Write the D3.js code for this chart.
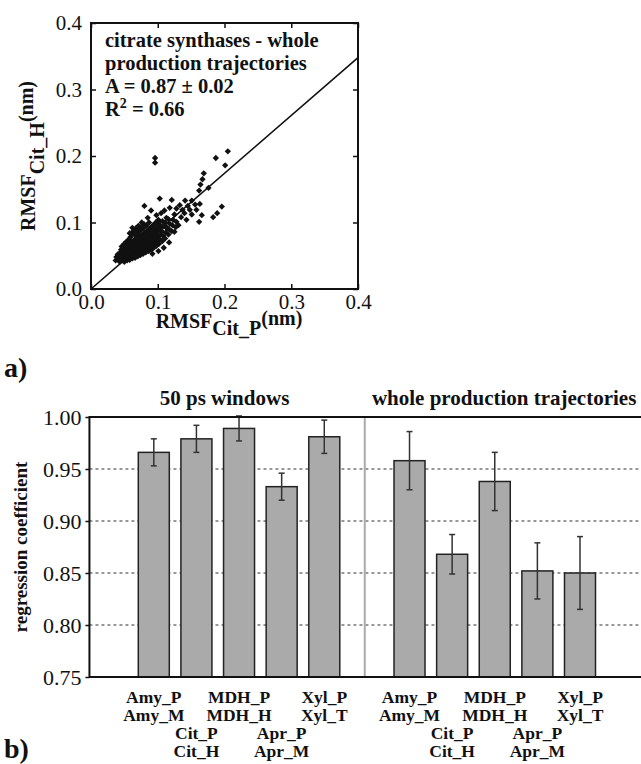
<!DOCTYPE html>
<html lang="en">
<head>
<meta charset="utf-8">
<style>
  body { margin: 0; background: #fff; }
  text { font-family: "Liberation Serif", "Times New Roman", serif; fill: #111; }
  .bold { font-weight: bold; }
</style>
<script src="https://cdnjs.cloudflare.com/ajax/libs/d3/7.8.5/d3.min.js"></script>
</head>
<body>
<script>
var width = 641, height = 764;

// a) RMSF of Cit_P (x) against Cit_H (y), nm
var citCluster = [
  [0.037,0.043],[0.038,0.048],[0.040,0.052],[0.041,0.045],
  [0.043,0.041],[0.043,0.050],[0.044,0.055],[0.045,0.059],[0.045,0.046],
  [0.047,0.043],[0.048,0.049],[0.047,0.053],[0.048,0.057],[0.049,0.062],[0.046,0.064],
  [0.050,0.041],[0.051,0.046],[0.052,0.050],[0.050,0.055],[0.051,0.059],[0.052,0.064],[0.050,0.068],[0.053,0.071],
  [0.054,0.043],[0.055,0.047],[0.056,0.052],[0.054,0.056],[0.055,0.061],[0.056,0.066],[0.055,0.070],[0.057,0.075],
  [0.058,0.044],[0.059,0.049],[0.060,0.053],[0.058,0.058],[0.060,0.062],[0.059,0.067],[0.061,0.071],[0.059,0.078],[0.061,0.082],
  [0.062,0.046],[0.063,0.050],[0.064,0.055],[0.062,0.060],[0.064,0.064],[0.063,0.069],[0.065,0.074],[0.063,0.085],[0.064,0.088],
  [0.066,0.047],[0.067,0.052],[0.068,0.057],[0.066,0.062],[0.068,0.067],[0.067,0.072],[0.069,0.077],[0.066,0.081],[0.068,0.086],[0.067,0.091],
  [0.070,0.049],[0.071,0.054],[0.072,0.059],[0.070,0.064],[0.072,0.069],[0.071,0.074],[0.073,0.080],[0.070,0.085],[0.072,0.090],
  [0.074,0.051],[0.075,0.056],[0.076,0.061],[0.074,0.066],[0.076,0.071],[0.075,0.076],[0.077,0.082],[0.074,0.088],[0.076,0.094],
  [0.078,0.053],[0.079,0.058],[0.080,0.063],[0.078,0.068],[0.080,0.073],[0.079,0.079],[0.081,0.085],[0.078,0.091],[0.080,0.097],
  [0.082,0.055],[0.083,0.060],[0.084,0.066],[0.082,0.071],[0.084,0.076],[0.083,0.082],[0.085,0.088],[0.083,0.095],
  [0.086,0.057],[0.087,0.063],[0.088,0.069],[0.086,0.074],[0.088,0.079],[0.087,0.085],[0.089,0.092],[0.087,0.100],
  [0.090,0.059],[0.091,0.066],[0.092,0.072],[0.090,0.077],[0.092,0.083],[0.091,0.089],[0.093,0.096],
  [0.094,0.062],[0.095,0.069],[0.096,0.075],[0.094,0.081],[0.096,0.087],[0.095,0.093],[0.097,0.100],
  [0.098,0.065],[0.099,0.072],[0.100,0.079],[0.098,0.085],[0.100,0.091],[0.099,0.098],[0.101,0.104],
  [0.102,0.068],[0.103,0.075],[0.104,0.082],[0.102,0.089],[0.104,0.095],[0.103,0.101],
  [0.107,0.072],[0.108,0.080],[0.106,0.087],[0.108,0.094],[0.107,0.102],
  [0.111,0.076],[0.112,0.085],[0.113,0.093],[0.111,0.100],[0.113,0.107],
  [0.116,0.082],[0.117,0.090],[0.118,0.098],[0.116,0.105],
  [0.121,0.087],[0.122,0.096],[0.123,0.104],
  [0.127,0.093],[0.128,0.101]
];
var citSpread = [
  [0.096,0.197],[0.096,0.190],[0.205,0.207],[0.187,0.197],[0.201,0.186],
  [0.169,0.174],[0.167,0.165],[0.164,0.157],[0.162,0.148],[0.176,0.152],
  [0.163,0.128],[0.166,0.111],[0.162,0.101],[0.151,0.112],[0.183,0.108],
  [0.189,0.114],[0.196,0.124],[0.148,0.119],[0.141,0.133],[0.121,0.134],
  [0.103,0.136],[0.080,0.125],[0.090,0.118],[0.133,0.126],[0.151,0.133],
  [0.128,0.121],[0.137,0.119],[0.145,0.125],[0.156,0.127],[0.140,0.114],
  [0.125,0.112],[0.110,0.118],[0.118,0.122],[0.135,0.108],[0.131,0.096],
  [0.143,0.104],[0.158,0.119],[0.098,0.111],[0.105,0.114],[0.085,0.107],
  [0.076,0.100],[0.114,0.091],[0.125,0.086],[0.117,0.070],[0.109,0.062],
  [0.101,0.057],[0.092,0.053],[0.071,0.095],[0.062,0.092],[0.058,0.084]
];
var slopeA = 0.87, slopeErr = 0.02, rSquared = 0.66;
var rmsfTicks = [0, 0.1, 0.2, 0.3, 0.4];
var noteLines = ["citrate synthases - whole", "production trajectories"];

// b) regression coefficients
var groupNames = ["50 ps windows", "whole production trajectories"];
var pairLabels = [["Amy_P", "Amy_M"], ["Cit_P", "Cit_H"], ["MDH_P", "MDH_H"], ["Apr_P", "Apr_M"], ["Xyl_P", "Xyl_T"]];
var coefWindows = [0.966, 0.979, 0.989, 0.933, 0.981];
var errWindows  = [0.013, 0.013, 0.012, 0.013, 0.016];
var coefWhole   = [0.958, 0.868, 0.938, 0.852, 0.850];
var errWhole    = [0.028, 0.019, 0.028, 0.027, 0.035];
var coefTicks = [0.75, 0.80, 0.85, 0.90, 0.95, 1.00];

var svg = d3.select("body").append("svg")
  .attr("width", width)
  .attr("height", height);

svg.append("rect").attr("width", width).attr("height", height).attr("fill", "#fff");

// ---------- a) scatter ----------
var sx = d3.scaleLinear().domain([0, 0.4]).range([91, 358]);
var sy = d3.scaleLinear().domain([0, 0.4]).range([289, 23]);
var f1 = d3.format(".1f");

function styleAxis(g, size) {
  g.select(".domain").remove();
  g.selectAll(".tick line").attr("stroke", "#111").attr("stroke-width", 1.5);
  g.selectAll(".tick text").style("font-size", size + "px").attr("fill", "#111");
}

svg.append("g").attr("transform", "translate(0," + sy(0) + ")")
  .call(d3.axisBottom(sx).tickValues(rmsfTicks).tickFormat(f1).tickSizeInner(-5).tickSizeOuter(0).tickPadding(5))
  .call(styleAxis, 21);
svg.append("g").attr("transform", "translate(0," + sy(0.4) + ")")
  .call(d3.axisTop(sx).tickValues(rmsfTicks).tickFormat("").tickSizeInner(-5).tickSizeOuter(0))
  .call(styleAxis, 21);
svg.append("g").attr("transform", "translate(" + sx(0) + ",0)")
  .call(d3.axisLeft(sy).tickValues(rmsfTicks).tickFormat(f1).tickSizeInner(-5).tickSizeOuter(0).tickPadding(9))
  .call(styleAxis, 21);
svg.append("g").attr("transform", "translate(" + sx(0.4) + ",0)")
  .call(d3.axisRight(sy).tickValues(rmsfTicks).tickFormat("").tickSizeInner(-5).tickSizeOuter(0))
  .call(styleAxis, 21);

svg.append("rect")
  .attr("x", sx(0)).attr("y", sy(0.4))
  .attr("width", sx(0.4) - sx(0)).attr("height", sy(0) - sy(0.4))
  .attr("fill", "none").attr("stroke", "#111").attr("stroke-width", 2);

var marker = d3.symbol().type(d3.symbolSquare).size(20);
svg.append("g").selectAll("path")
  .data(citCluster.concat(citSpread))
  .enter().append("path")
  .attr("d", marker)
  .attr("transform", function(d) { return "translate(" + sx(d[0]) + "," + sy(d[1]) + ") rotate(45)"; })
  .attr("fill", "#111");

svg.append("path")
  .datum([0, 0.4])
  .attr("d", d3.line().x(function(d) { return sx(d); }).y(function(d) { return sy(d * slopeA); }))
  .attr("stroke", "#111").attr("stroke-width", 1.6).attr("fill", "none");

var note = svg.append("g").attr("class", "bold").style("font-size", "20.5px");
note.append("text").attr("x", 105).attr("y", 47).text(noteLines[0]);
note.append("text").attr("x", 105).attr("y", 69.5).text(noteLines[1]);
note.append("text").attr("x", 105).attr("y", 92.5).text("A = " + slopeA.toFixed(2) + " \u00b1 " + slopeErr.toFixed(2));
var r2 = note.append("text").attr("x", 105).attr("y", 115.5);
r2.append("tspan").text("R");
r2.append("tspan").attr("dy", -8).style("font-size", "14px").text("2");
r2.append("tspan").attr("dy", 8).text(" = " + rSquared.toFixed(2));

var xl = svg.append("text").attr("class", "bold").attr("x", 229).attr("y", 328)
  .attr("text-anchor", "middle").style("font-size", "20px");
xl.append("tspan").text("RMSF");
xl.append("tspan").attr("dy", 7).text("Cit_P");
xl.append("tspan").attr("dy", -10).text("(nm)");

var yl = svg.append("text").attr("class", "bold")
  .attr("transform", "translate(35," + ((sy(0) + sy(0.4)) / 2) + ") rotate(-90)")
  .attr("text-anchor", "middle").style("font-size", "20px");
yl.append("tspan").text("RMSF");
yl.append("tspan").attr("dy", 9).text("Cit_H");
yl.append("tspan").attr("dy", -11).text("(nm)");

svg.append("text").attr("class", "bold").attr("x", 4).attr("y", 377).style("font-size", "28px").text("a)");

// ---------- b) bars ----------
var cy = d3.scaleLinear().domain([0.75, 1.0]).range([677, 417]);
var slot = d3.scaleLinear().domain([0, 10]).range([153.8, 580]);
var barW = 31;
var left = slot(-1.51), right = slot(11.6);

var bars = [];
coefWindows.forEach(function(v, i) { bars.push({ s: i, v: v, e: errWindows[i], lab: pairLabels[i], k: i }); });
coefWhole.forEach(function(v, i) { bars.push({ s: i + 6, v: v, e: errWhole[i], lab: pairLabels[i], k: i }); });

svg.append("g").selectAll("line")
  .data(coefTicks.slice(1, 5))
  .enter().append("line")
  .attr("x1", left).attr("x2", right)
  .attr("y1", function(d) { return cy(d); }).attr("y2", function(d) { return cy(d); })
  .attr("stroke", "#777").attr("stroke-width", 1.5).attr("stroke-dasharray", "3,3");

svg.append("line")
  .attr("x1", slot(4.95)).attr("x2", slot(4.95))
  .attr("y1", cy(1.0)).attr("y2", cy(0.75))
  .attr("stroke", "#aaa").attr("stroke-width", 2);

svg.append("g").selectAll("rect")
  .data(bars)
  .enter().append("rect")
  .attr("x", function(d) { return slot(d.s) - barW / 2; })
  .attr("y", function(d) { return cy(d.v); })
  .attr("width", barW)
  .attr("height", function(d) { return cy(0.75) - cy(d.v); })
  .attr("fill", "#aaa").attr("stroke", "#222").attr("stroke-width", 1.5);

var eb = svg.append("g").attr("stroke", "#333").attr("stroke-width", 1.5);
bars.forEach(function(d) {
  var x = slot(d.s);
  eb.append("line").attr("x1", x).attr("x2", x).attr("y1", cy(d.v + d.e)).attr("y2", cy(d.v - d.e));
  eb.append("line").attr("x1", x - 3).attr("x2", x + 3).attr("y1", cy(d.v + d.e)).attr("y2", cy(d.v + d.e));
  eb.append("line").attr("x1", x - 3).attr("x2", x + 3).attr("y1", cy(d.v - d.e)).attr("y2", cy(d.v - d.e));
});

svg.append("g").attr("transform", "translate(" + left + ",0)")
  .call(d3.axisLeft(cy).tickValues(coefTicks).tickFormat(d3.format(".2f")).tickSizeInner(4).tickSizeOuter(0).tickPadding(4))
  .call(styleAxis, 22);

svg.append("path")
  .attr("d", "M" + right + "," + cy(1.0) + "H" + left + "V" + cy(0.75) + "H" + right)
  .attr("fill", "none").attr("stroke", "#111").attr("stroke-width", 2);

var rowBase = [703, 721, 739, 757];
var labs = svg.append("g").attr("class", "bold").style("font-size", "17.5px").attr("text-anchor", "middle");
bars.forEach(function(d) {
  var r = d.k % 2 === 0 ? 0 : 2;
  d.lab.forEach(function(t, j) {
    labs.append("text").attr("x", slot(d.s)).attr("y", rowBase[r + j]).text(t);
  });
});

var heads = svg.append("g").attr("class", "bold").style("font-size", "21px").attr("text-anchor", "middle");
heads.append("text").attr("x", slot(1.66)).attr("y", 405).text(groupNames[0]);
heads.append("text").attr("x", slot(8.22)).attr("y", 405).text(groupNames[1]);

svg.append("text").attr("class", "bold")
  .attr("transform", "translate(27," + ((cy(0.75) + cy(1.0)) / 2) + ") rotate(-90)")
  .attr("text-anchor", "middle").style("font-size", "19px")
  .text("regression coefficient");

svg.append("text").attr("class", "bold").attr("x", 4).attr("y", 758).style("font-size", "28px").text("b)");
</script>
</body>
</html>
